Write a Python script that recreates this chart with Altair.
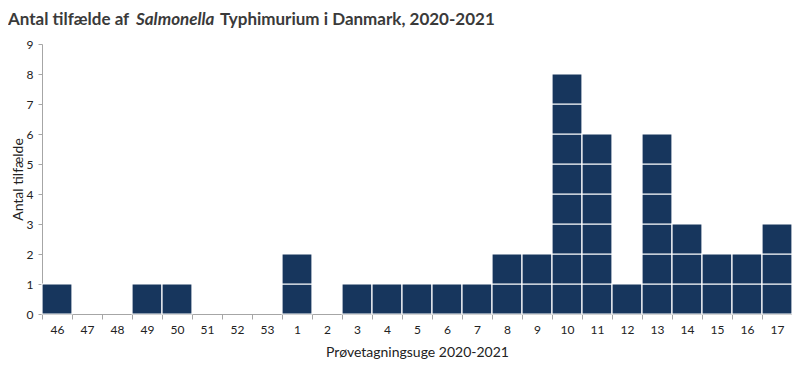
import altair as alt
import pandas as pd

weeks = ["46", "47", "48", "49", "50", "51", "52", "53", "1", "2", "3", "4", "5",
         "6", "7", "8", "9", "10", "11", "12", "13", "14", "15", "16", "17"]
cases = [1, 0, 0, 1, 1, 0, 0, 0, 2, 0, 1, 1, 1, 1, 1, 2, 2, 8, 6, 1, 6, 3, 2, 2, 3]

title_parts = ["Antal tilfælde af", "Salmonella", "Typhimurium i Danmark, 2020-2021"]
y_title = "Antal tilfælde"
x_title = "Prøvetagningsuge 2020-2021"

rows = []
for w, c in zip(weeks, cases):
    for k in range(c):
        rows.append({"week": w, "y0": k, "y1": k + 1})
df = pd.DataFrame(rows)

FONT = "Lato"
BAR = "#17365D"
AXIS_GRAY = "#A6A6A6"
TEXT = "#222222"
W, H = 750, 270

bars = alt.Chart(df).mark_bar(color=BAR, stroke="white", strokeWidth=1.2).encode(
    x=alt.X("week:O", sort=weeks,
            scale=alt.Scale(domain=weeks, paddingInner=0, paddingOuter=0),
            axis=alt.Axis(title=x_title, labelAngle=0, tickBand="extent", tickSize=5,
                          domainColor=AXIS_GRAY, tickColor=AXIS_GRAY, labelColor=TEXT,
                          labelFont=FONT, labelFontSize=12, labelPadding=5,
                          titleFont=FONT, titleFontSize=14, titleFontWeight="normal",
                          titleColor=TEXT, titlePadding=10)),
    y=alt.Y("y0:Q", scale=alt.Scale(domain=[0, 9], nice=False),
            axis=alt.Axis(title=y_title, values=list(range(10)), grid=False, tickSize=4,
                          domainColor=AXIS_GRAY, tickColor=AXIS_GRAY, labelColor=TEXT,
                          labelFont=FONT, labelFontSize=12, labelPadding=5,
                          titleFont=FONT, titleFontSize=14, titleFontWeight="normal",
                          titleColor=TEXT, titlePadding=1)),
    y2="y1",
)

def title_piece(text, x, italic=False):
    return alt.Chart(pd.DataFrame({"t": [text]})).mark_text(
        align="left", baseline="alphabetic", font=FONT, fontSize=17, fontWeight="bold",
        fontStyle="italic" if italic else "normal", color="#3A3A3A",
    ).encode(text="t:N", x=alt.value(x), y=alt.value(-19))

t1 = title_piece(title_parts[0], -34)
t2 = title_piece(title_parts[1], 94, italic=True)
t3 = title_piece(title_parts[2], 178)

chart = alt.layer(bars, t1, t2, t3).properties(
    width=W, height=H,
    autosize=alt.AutoSizeParams(type="none"),
    padding={"left": 34, "top": 36, "right": 0, "bottom": 50},
).configure_view(stroke=None)

chart.save("out.html", embed_options={"renderer": "svg", "actions": False})
